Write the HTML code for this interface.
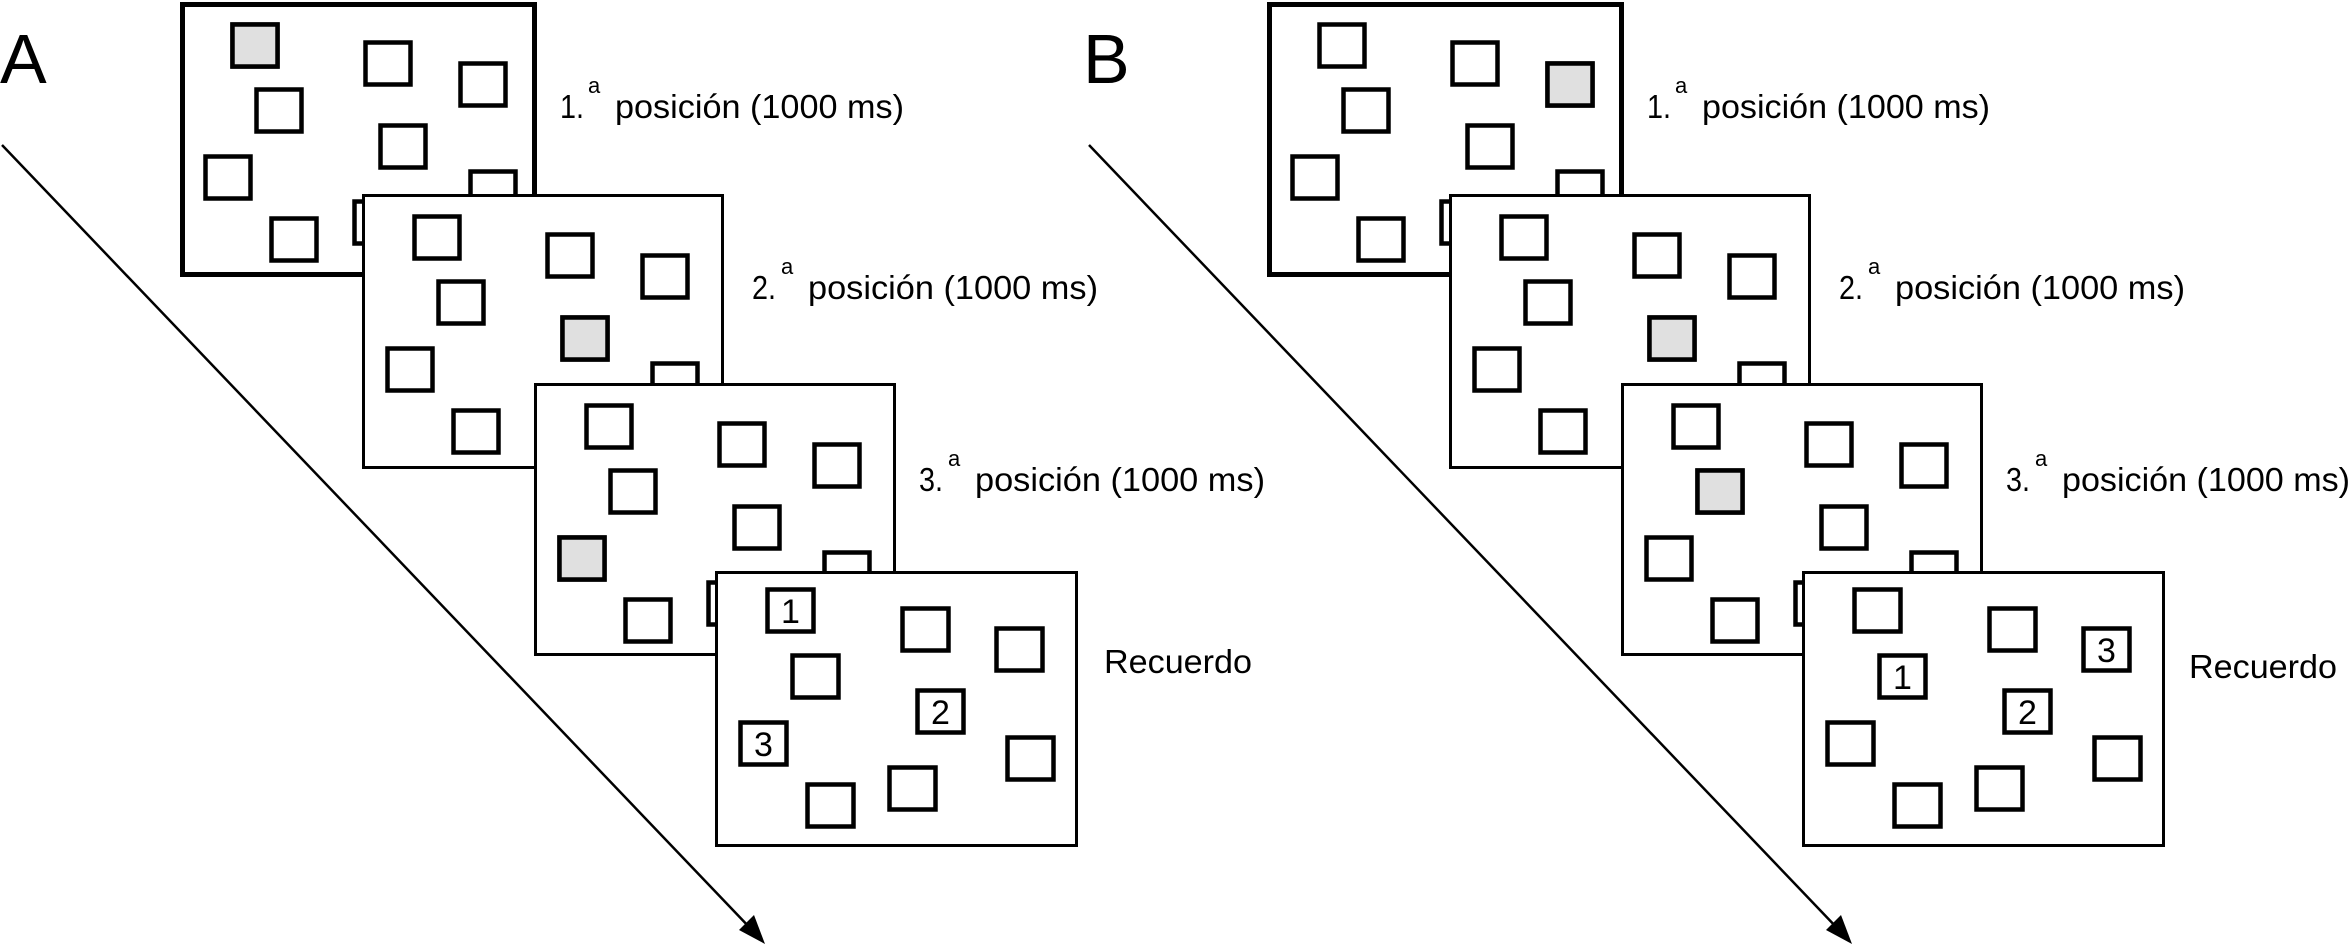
<!DOCTYPE html>
<html><head><meta charset="utf-8"><style>
html,body{margin:0;padding:0;background:#fff;}
svg{display:block;}
text{font-family:"Liberation Sans",Arial,sans-serif;fill:#000;}
</style></head><body>
<svg width="2351" height="945" viewBox="0 0 2351 945" xmlns="http://www.w3.org/2000/svg">
<defs>
<g id="L" fill="#fff" stroke="#000" stroke-width="4.5">
<rect x="52.5" y="22.5" width="45" height="42"/>
<rect x="185.5" y="40.5" width="45" height="42"/>
<rect x="280.5" y="61.5" width="45" height="42"/>
<rect x="76.5" y="87.5" width="45" height="42"/>
<rect x="200.5" y="123.5" width="45" height="42"/>
<rect x="25.5" y="154.5" width="45" height="42"/>
<rect x="290.5" y="169.5" width="45" height="42"/>
<rect x="91.5" y="216.5" width="45" height="42"/>
<rect x="174.5" y="199.5" width="45" height="42"/>
</g>
<g id="L4" fill="#fff" stroke="#000" stroke-width="4.5">
<rect x="52.5" y="18.5" width="46" height="42"/>
<rect x="187.5" y="37.5" width="46" height="42"/>
<rect x="281.5" y="57.5" width="46" height="42"/>
<rect x="77.5" y="84.5" width="46" height="42"/>
<rect x="202.5" y="119.5" width="46" height="42"/>
<rect x="25.5" y="151.5" width="46" height="42"/>
<rect x="292.5" y="166.5" width="46" height="42"/>
<rect x="92.5" y="213.5" width="46" height="42"/>
<rect x="174.5" y="196.5" width="46" height="42"/>
</g>
</defs>

<!-- Panel A -->
<text x="0" y="83" font-size="70">A</text>
<line x1="2" y1="145" x2="752" y2="930" stroke="#000" stroke-width="2.5"/>
<polygon points="765,944 739,930 754,915" fill="#000"/>

<g transform="translate(180,2)">
<rect x="2.5" y="2.5" width="352" height="270" fill="#fff" stroke="#000" stroke-width="5"/>
<use href="#L"/>
<rect x="52.5" y="22.5" width="45" height="42" fill="#e0e0e0" stroke="#000" stroke-width="4.5"/>
</g>
<g transform="translate(362,194)">
<rect x="1.5" y="1.5" width="359" height="272" fill="#fff" stroke="#000" stroke-width="3"/>
<use href="#L"/>
<rect x="200.5" y="123.5" width="45" height="42" fill="#e0e0e0" stroke="#000" stroke-width="4.5"/>
</g>
<g transform="translate(534,383)">
<rect x="1.5" y="1.5" width="359" height="270" fill="#fff" stroke="#000" stroke-width="3"/>
<use href="#L"/>
<rect x="25.5" y="154.5" width="45" height="42" fill="#e0e0e0" stroke="#000" stroke-width="4.5"/>
</g>
<g transform="translate(715,571)">
<rect x="1.5" y="1.5" width="360" height="273" fill="#fff" stroke="#000" stroke-width="3"/>
<use href="#L4"/>
<text x="75.5" y="52" font-size="34" text-anchor="middle">1</text>
<text x="225.5" y="153" font-size="34" text-anchor="middle">2</text>
<text x="48.5" y="185" font-size="34" text-anchor="middle">3</text>
</g>

<text x="560" y="118" font-size="33" textLength="24" lengthAdjust="spacingAndGlyphs">1.</text>
<text x="588" y="93" font-size="22">a</text>
<text x="615" y="118" font-size="33" textLength="289" lengthAdjust="spacingAndGlyphs">posición (1000 ms)</text>
<text x="752" y="299" font-size="33" textLength="24" lengthAdjust="spacingAndGlyphs">2.</text>
<text x="781" y="274" font-size="22">a</text>
<text x="808" y="299" font-size="33" textLength="290" lengthAdjust="spacingAndGlyphs">posición (1000 ms)</text>
<text x="919" y="491" font-size="33" textLength="24" lengthAdjust="spacingAndGlyphs">3.</text>
<text x="948" y="466" font-size="22">a</text>
<text x="975" y="491" font-size="33" textLength="290" lengthAdjust="spacingAndGlyphs">posición (1000 ms)</text>
<text x="1104" y="673" font-size="33" textLength="148" lengthAdjust="spacingAndGlyphs">Recuerdo</text>

<!-- Panel B -->
<text x="1083" y="83" font-size="70">B</text>
<line x1="1089" y1="145" x2="1839" y2="930" stroke="#000" stroke-width="2.5"/>
<polygon points="1852,944 1826,930 1841,915" fill="#000"/>

<g transform="translate(1267,2)">
<rect x="2.5" y="2.5" width="352" height="270" fill="#fff" stroke="#000" stroke-width="5"/>
<use href="#L"/>
<rect x="280.5" y="61.5" width="45" height="42" fill="#e0e0e0" stroke="#000" stroke-width="4.5"/>
</g>
<g transform="translate(1449,194)">
<rect x="1.5" y="1.5" width="359" height="272" fill="#fff" stroke="#000" stroke-width="3"/>
<use href="#L"/>
<rect x="200.5" y="123.5" width="45" height="42" fill="#e0e0e0" stroke="#000" stroke-width="4.5"/>
</g>
<g transform="translate(1621,383)">
<rect x="1.5" y="1.5" width="359" height="270" fill="#fff" stroke="#000" stroke-width="3"/>
<use href="#L"/>
<rect x="76.5" y="87.5" width="45" height="42" fill="#e0e0e0" stroke="#000" stroke-width="4.5"/>
</g>
<g transform="translate(1802,571)">
<rect x="1.5" y="1.5" width="360" height="273" fill="#fff" stroke="#000" stroke-width="3"/>
<use href="#L4"/>
<text x="100.5" y="118" font-size="34" text-anchor="middle">1</text>
<text x="225.5" y="153" font-size="34" text-anchor="middle">2</text>
<text x="304.5" y="91" font-size="34" text-anchor="middle">3</text>
</g>

<text x="1647" y="118" font-size="33" textLength="24" lengthAdjust="spacingAndGlyphs">1.</text>
<text x="1675" y="93" font-size="22">a</text>
<text x="1702" y="118" font-size="33" textLength="288" lengthAdjust="spacingAndGlyphs">posición (1000 ms)</text>
<text x="1839" y="299" font-size="33" textLength="24" lengthAdjust="spacingAndGlyphs">2.</text>
<text x="1868" y="274" font-size="22">a</text>
<text x="1895" y="299" font-size="33" textLength="290" lengthAdjust="spacingAndGlyphs">posición (1000 ms)</text>
<text x="2006" y="491" font-size="33" textLength="24" lengthAdjust="spacingAndGlyphs">3.</text>
<text x="2035" y="466" font-size="22">a</text>
<text x="2062" y="491" font-size="33" textLength="288" lengthAdjust="spacingAndGlyphs">posición (1000 ms)</text>
<text x="2189" y="678" font-size="33" textLength="148" lengthAdjust="spacingAndGlyphs">Recuerdo</text>
</svg>
</body></html>
